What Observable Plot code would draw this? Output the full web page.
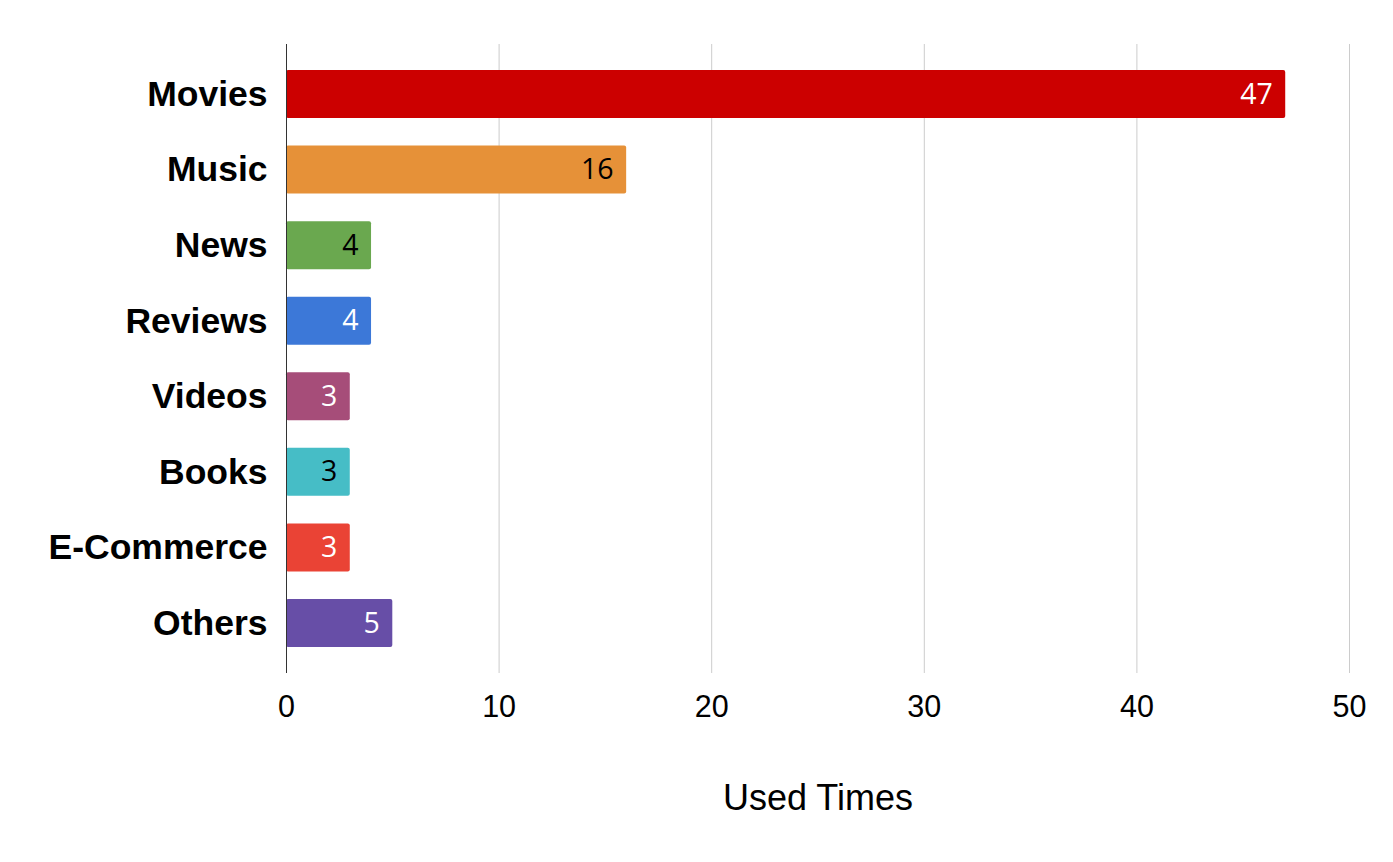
<!DOCTYPE html>
<html>
<head>
<meta charset="utf-8">
<script src="https://cdn.jsdelivr.net/npm/d3@7"></script>
<script src="https://cdn.jsdelivr.net/npm/@observablehq/plot@0.6"></script>
<style>
  html, body { margin: 0; padding: 0; background: #fff; }
  #chart svg { display: block; }
</style>
</head>
<body>
<div id="chart"></div>
<script>
const categories = ["Movies", "Music", "News", "Reviews", "Videos", "Books", "E-Commerce", "Others"];
const values = [47, 16, 4, 4, 3, 3, 3, 5];
const barColors = ["#cc0000", "#e69138", "#6aa84f", "#3c78d8", "#a64d79", "#46bdc6", "#ea4335", "#674ea7"];
const labelColors = ["#ffffff", "#000000", "#000000", "#ffffff", "#ffffff", "#000000", "#ffffff", "#ffffff"];
const xTicks = [0, 10, 20, 30, 40, 50];
const xTitle = "Used Times";

const data = categories.map((c, i) => ({cat: c, value: values[i], fill: barColors[i], label: labelColors[i]}));

const chart = Plot.plot({
  width: 1393,
  height: 862,
  marginTop: 44,
  marginBottom: 189,
  marginLeft: 286,
  marginRight: 44,
  style: {fontFamily: "'Liberation Sans', Arial, sans-serif", background: "#fff"},
  x: {domain: [0, 50], ticks: xTicks},
  y: {domain: categories, paddingInner: 0.365, paddingOuter: 0.344, align: 0.5, round: false},
  marks: [
    Plot.gridX(xTicks, {stroke: "#cccccc", strokeOpacity: 1}),
    Plot.barX(data, {y: "cat", x: "value", fill: d => d.fill, rx: 2}),
    Plot.ruleX([0], {stroke: "#333333", strokeWidth: 1}),
    Plot.text(data, {y: "cat", x: "value", text: d => String(d.value), fill: d => d.label, textAnchor: "end", dx: -13, fontSize: 28.5, fontFamily: "'Open Sans', sans-serif"}),
    Plot.axisY({tickSize: 0, tickPadding: 19, fontSize: 35.5, fontWeight: "bold", fill: "#000", label: null}),
    Plot.axisX(xTicks, {tickSize: 0, tickPadding: 22, fontSize: 30.5, fill: "#000", label: null}),
    Plot.text([xTitle], {frameAnchor: "bottom", dy: 136, text: d => d, fontSize: 36, fill: "#000"})
  ]
});
document.getElementById("chart").appendChild(chart);
</script>
</body>
</html>
